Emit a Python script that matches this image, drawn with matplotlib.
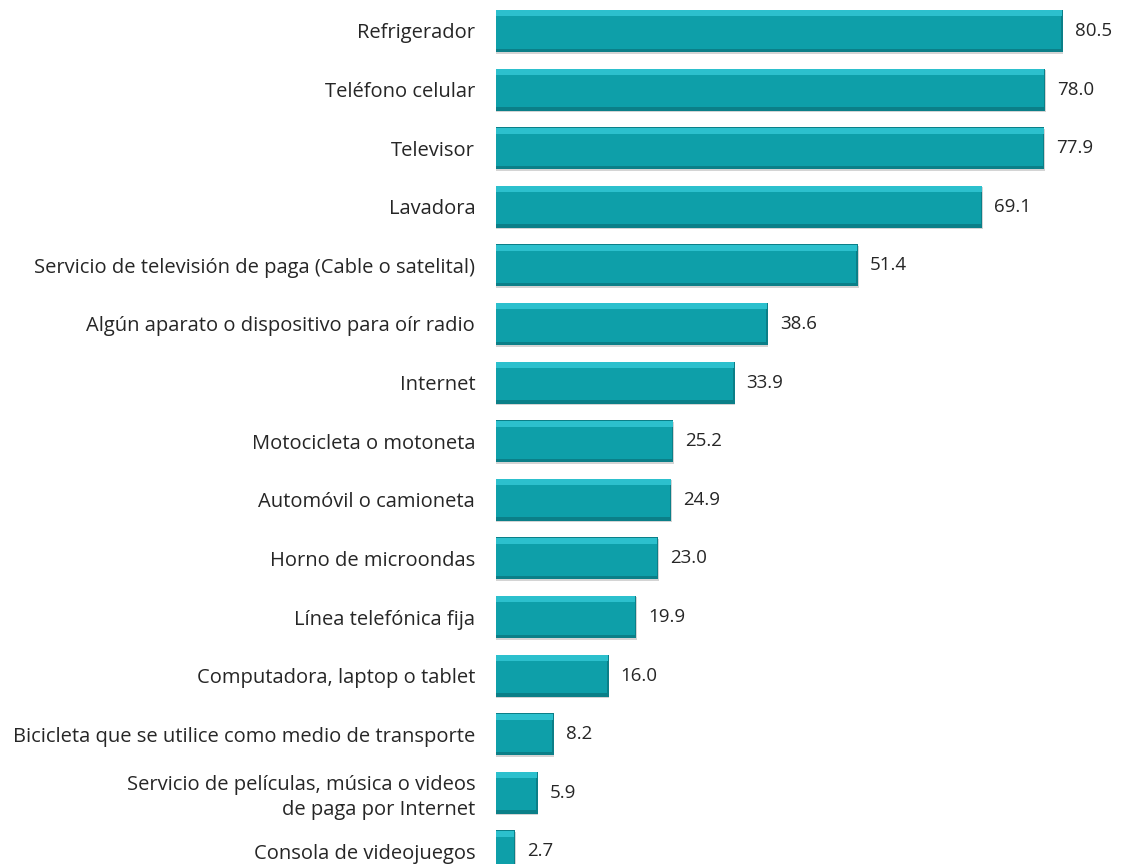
import matplotlib.pyplot as plt
import numpy as np

categories = [
    "Refrigerador",
    "Teléfono celular",
    "Televisor",
    "Lavadora",
    "Servicio de televisión de paga (Cable o satelital)",
    "Algún aparato o dispositivo para oír radio",
    "Internet",
    "Motocicleta o motoneta",
    "Automóvil o camioneta",
    "Horno de microondas",
    "Línea telefónica fija",
    "Computadora, laptop o tablet",
    "Bicicleta que se utilice como medio de transporte",
    "Servicio de películas, música o videos\nde paga por Internet",
    "Consola de videojuegos",
]
values = [80.5, 78.0, 77.9, 69.1, 51.4, 38.6, 33.9, 25.2, 24.9, 23.0, 19.9, 16.0, 8.2, 5.9, 2.7]

plt.rcParams['font.family'] = ['Open Sans', 'DejaVu Sans']

fig = plt.figure(figsize=(11.24, 8.64), dpi=100)
ax = fig.add_axes([0.4413, 0.0, 0.5587, 1.0])

y = np.arange(len(values))
vals = np.array(values)
h = 0.72

# soft shadow, dark edge, face, and a light bevel strip on top
ax.barh(y + 0.025, vals + 0.1, height=h, color='#d4d4d4', zorder=1)
ax.barh(y, vals, height=h, color='#0b7f88', zorder=2)
ax.barh(y - 0.015, vals - 0.2, height=h - 0.09, color='#0e9fa9', zorder=3)
ax.barh(y - h / 2 + 0.06, vals - 0.1, height=0.1, color='#2cc0cd', zorder=4)

for yi, v in zip(y, values):
    ax.annotate(f"{v:.1f}", (v, yi), xytext=(8.6, 0), textcoords='offset points',
                va='center', ha='left', fontsize=13.5, color='#262626')

ax.set_yticks(y)
ax.set_yticklabels(categories, fontsize=14.5, color='#262626', linespacing=1.3)
ax.tick_params(axis='y', length=0, pad=15)
ax.set_xticks([])
ax.set_xlim(0, 89.2)
ax.set_ylim(14.215, -0.529)
for s in ax.spines.values():
    s.set_visible(False)

fig.savefig('out.png', dpi=100)
